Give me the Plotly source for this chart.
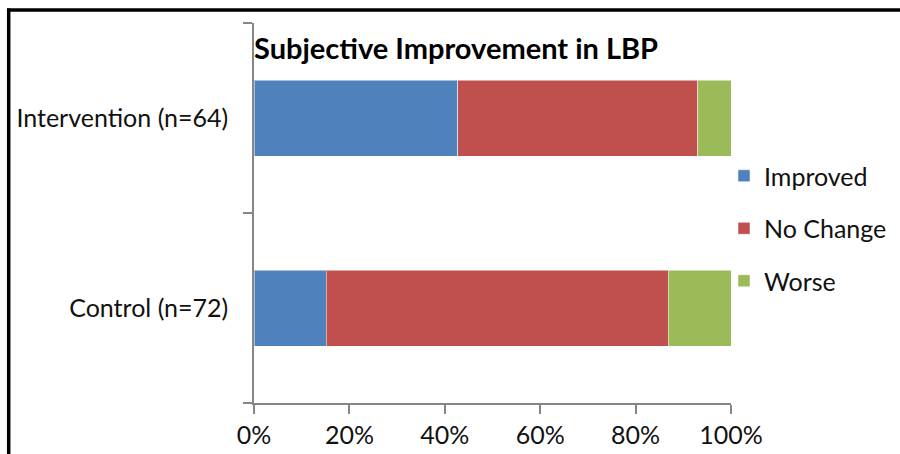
import plotly.graph_objects as go

# Groups (top to bottom) and share of patients in each outcome
groups = ["Intervention (n=64)", "Control (n=72)"]
series_names = ["Improved", "No Change", "Worse"]
improved = [0.427, 0.151]
no_change = [0.503, 0.717]
worse = [0.070, 0.132]
x_ticks = [0, 0.2, 0.4, 0.6, 0.8, 1.0]

colors = ["#4F81BD", "#C0504D", "#9BBB59"]
values = [improved, no_change, worse]

FONT = "Lato"
W, H = 900, 454
L, R, T, B = 254, 169, 23, 51
PW, PH = W - L - R, H - T - B

fig = go.Figure()
for name, vals, col in zip(series_names, values, colors):
    fig.add_trace(go.Bar(
        y=groups, x=vals, name=name, orientation="h",
        marker=dict(color=col, line=dict(color="rgba(255,255,255,0.5)", width=1)),
        legendgroup=name,
        hoverinfo="skip",
    ))

def px_x(p):
    return (p - L) / PW

def px_y(p):
    return (H - B - p) / PH

axis_grey = "#868686"

fig.update_layout(
    width=W, height=H,
    margin=dict(l=L, r=R, t=T, b=B, pad=0, autoexpand=False),
    barmode="stack",
    bargap=0.6,
    paper_bgcolor="white",
    plot_bgcolor="white",
    font=dict(family=FONT, color="#000000"),
    xaxis=dict(
        range=[0, 1], tickvals=x_ticks, tickformat=".0%",
        showgrid=False, zeroline=False,
        showline=True, linecolor=axis_grey, linewidth=1.5,
        ticks="outside", ticklen=9, tickcolor=axis_grey, tickwidth=1.5,
        tickfont=dict(family=FONT, size=25, color="#111111"),
        automargin=False,
        fixedrange=True,
    ),
    yaxis=dict(
        categoryorder="array", categoryarray=groups[::-1],
        showgrid=False, zeroline=False,
        showline=True, linecolor=axis_grey, linewidth=1.5,
        ticks="outside", ticklen=9, tickcolor=axis_grey, tickwidth=1.5,
        tickson="boundaries",
        ticklabelstandoff=19,
        tickfont=dict(family=FONT, size=25, color="#111111"),
        automargin=False,
        fixedrange=True,
    ),
    legend=dict(
        x=px_x(724), y=px_y(153), xanchor="left", yanchor="top",
        traceorder="grouped", tracegroupgap=17,
        itemwidth=30,
        font=dict(family=FONT, size=25, color="#111111"),
        bgcolor="rgba(0,0,0,0)",
    ),
    showlegend=True,
    annotations=[dict(
        text="<b>Subjective Improvement in LBP</b>",
        xref="paper", yref="paper", x=px_x(252), y=px_y(48),
        xanchor="left", yanchor="middle", showarrow=False,
        font=dict(family=FONT, size=29, color="#000000"),
    )],
    shapes=[
        # chart frame: top and left edges
        dict(type="line", xref="paper", yref="paper",
             x0=px_x(7), x1=px_x(W + 5), y0=px_y(10), y1=px_y(10),
             line=dict(color="black", width=3.5)),
        dict(type="line", xref="paper", yref="paper",
             x0=px_x(8.7), x1=px_x(8.7), y0=px_y(8.5), y1=px_y(H + 5),
             line=dict(color="black", width=3.5)),
    ],
)

fig.write_html("out.html", config=dict(displayModeBar=False))
